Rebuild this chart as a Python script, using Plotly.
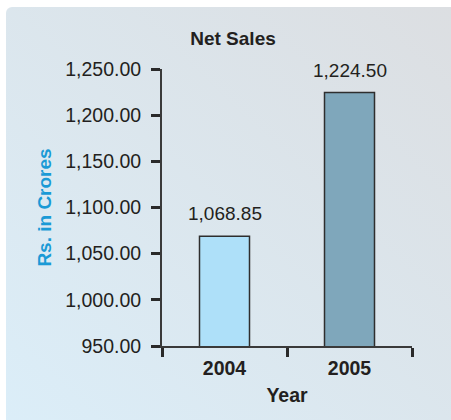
import base64
import plotly.graph_objects as go

# Net sales by year (Rs. in Crores)
years = ["2004", "2005"]
net_sales = [1068.85, 1224.50]
bar_colors = ["#aee0f9", "#7fa7bb"]
y_ticks = [950, 1000, 1050, 1100, 1150, 1200, 1250]
y_tick_labels = [f"{v:,.2f}" for v in y_ticks]

FONT = "Liberation Sans, Arial, sans-serif"
INK = "#231f20"

# Soft diagonal gradient panel drawn behind the chart
svg = (
    '<svg xmlns="http://www.w3.org/2000/svg" width="445" height="413" '
    'viewBox="0 0 445 413" preserveAspectRatio="none">'
    '<defs><linearGradient id="g" x1="0" y1="1" x2="1" y2="0">'
    '<stop offset="0" stop-color="#dbeef9"/>'
    '<stop offset="1" stop-color="#dcdee1"/>'
    '</linearGradient></defs>'
    '<rect x="0" y="0" width="470" height="440" rx="6" ry="6" fill="url(#g)"/>'
    '</svg>'
)
bg_src = "data:image/svg+xml;base64," + base64.b64encode(svg.encode()).decode()

fig = go.Figure(
    go.Bar(
        x=years,
        y=net_sales,
        width=0.4,
        marker=dict(color=bar_colors, line=dict(color="#2e2e2e", width=1.5)),
        hoverinfo="skip",
    )
)

# value labels above each bar (positioned by category index)
for i, v in enumerate(net_sales):
    fig.add_annotation(
        x=i, y=v, xref="x", yref="y", text=f"{v:,.2f}", showarrow=False,
        yanchor="bottom", yshift=10,
        font=dict(family=FONT, size=19, color=INK),
    )

L, R, T, B = 162, 39, 69, 74
W, H = 451, 420
pw, ph = W - L - R, H - T - B

fig.add_layout_image(
    source=bg_src, xref="paper", yref="paper",
    x=(6 - L) / pw, y=(H - B - 7) / ph,
    sizex=(W - 6) / pw, sizey=(H - 7) / ph,
    xanchor="left", yanchor="top", sizing="stretch", layer="below",
)

fig.update_layout(
    width=W, height=H,
    margin=dict(l=L, r=R, t=T, b=B, pad=0),
    paper_bgcolor="white",
    plot_bgcolor="rgba(0,0,0,0)",
    showlegend=False,
    title=dict(
        text="Net Sales", x=233 / W, xanchor="center",
        y=1 - 38 / H, yanchor="middle",
        font=dict(family=FONT, size=19, color=INK, weight="bold"),
    ),
    xaxis=dict(
        type="category", range=[-0.5, 1.5],
        showline=True, linecolor="#3a3a3a", linewidth=2,
        ticks="outside", tickson="boundaries", ticklen=9, tickwidth=2.5,
        tickcolor="#2a2a2a", showgrid=False, zeroline=False,
        ticklabelstandoff=4,
        tickfont=dict(family=FONT, size=19.5, color=INK, weight="bold"),
        title=dict(text="Year", standoff=10,
                   font=dict(family=FONT, size=19.5, color=INK, weight="bold")),
    ),
    yaxis=dict(
        range=[950, 1250],
        tickvals=y_ticks, ticktext=y_tick_labels,
        showline=True, linecolor="#3a3a3a", linewidth=2,
        ticks="outside", ticklen=9, tickwidth=2.5, tickcolor="#2a2a2a",
        ticklabelstandoff=6,
        showgrid=False, zeroline=False,
        tickfont=dict(family=FONT, size=19.5, color=INK),
        title=dict(text="Rs. in Crores", standoff=9,
                   font=dict(family=FONT, size=19, color="#1a9ad6", weight="bold")),
    ),
)

fig.write_html("out.html")
